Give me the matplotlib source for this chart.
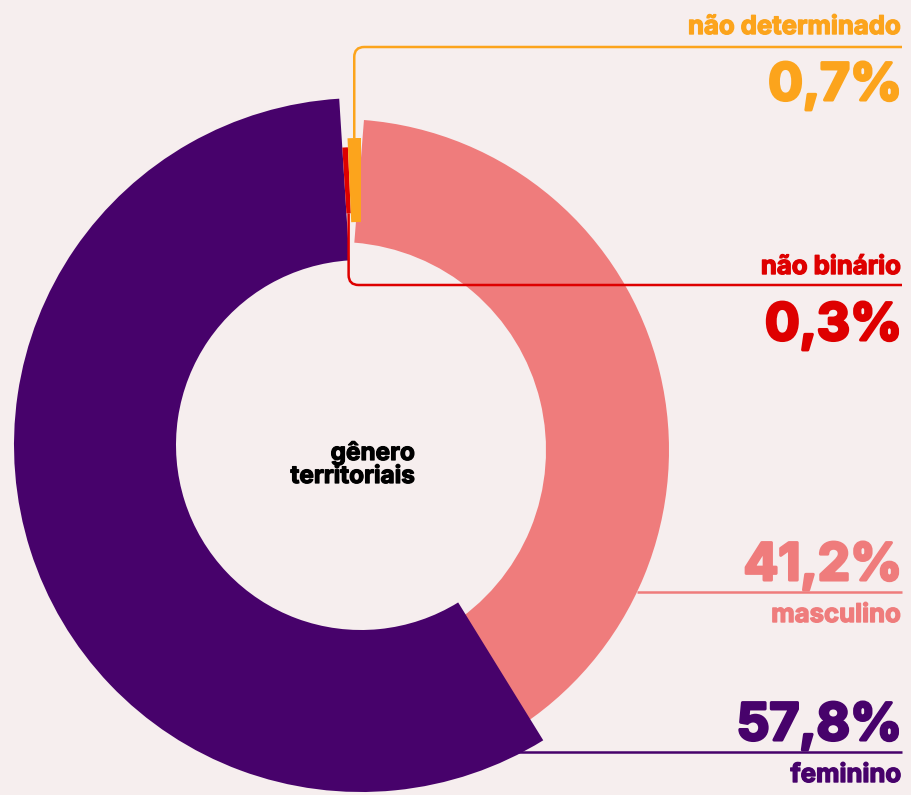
import numpy as np
import matplotlib
matplotlib.use("Agg")
import matplotlib.pyplot as plt
import matplotlib.patheffects as pe
from matplotlib.patches import Wedge, PathPatch
from matplotlib.path import Path

# dados
categorias = ["masculino", "feminino", "não binário", "não determinado"]
valores = [41.2, 57.8, 0.3, 0.7]
rotulos = ["41,2%", "57,8%", "0,3%", "0,7%"]
titulo = "gênero\nterritoriais"

# estilo
cores = ["#EF7C7C", "#47026B", "#DE0000", "#FCA41C"]
fundo = "#F6EEEE"
cx, cy = 361, 445                     # centro do anel (px)
deslocamento = [(-23, 5), (0, 0), (0, 0), (0, 0)]
raio_in = [208, 185, 232, 223]
raio_out = [331, 347, 298, 307]
folga_inicio = [4.5, 0, 0, 0]         # recuo do inicio da fatia rosa
ordem_desenho = [0, 1, 2, 3]
fonte = "Inter"

fig = plt.figure(figsize=(9.11, 7.95), dpi=100)
fig.patch.set_facecolor(fundo)
ax = fig.add_axes([0, 0, 1, 1])
ax.set_xlim(0, 911)
ax.set_ylim(795, 0)
ax.set_aspect("equal")
ax.axis("off")

# angulos no sentido horario a partir do topo
total = sum(valores)
fim = np.cumsum(valores) / total * 360
ini = fim - np.array(valores) / total * 360

def ponto(i, ang, r):
    ox, oy = cx + deslocamento[i][0], cy + deslocamento[i][1]
    a = np.radians(ang)
    return ox + r * np.sin(a), oy - r * np.cos(a)

for i in ordem_desenho:
    ox, oy = cx + deslocamento[i][0], cy + deslocamento[i][1]
    a1 = ini[i] + folga_inicio[i] - 90
    a2 = fim[i] - 90
    ax.add_patch(Wedge((ox, oy), raio_out[i], a1, a2,
                       width=raio_out[i] - raio_in[i],
                       facecolor=cores[i], edgecolor="none"))

x_fim = 902
def linha_curva(x0, y0, y_lin, cor, r=10):
    s = 1 if y_lin > y0 else -1
    verts = [(x0, y0), (x0, y_lin - s * r), (x0, y_lin), (x0 + r, y_lin), (x_fim, y_lin)]
    codes = [Path.MOVETO, Path.LINETO, Path.CURVE3, Path.CURVE3, Path.LINETO]
    ax.add_patch(PathPatch(Path(verts, codes), facecolor="none",
                           edgecolor=cor, lw=1.8, capstyle="butt"))

# não determinado: linha sai do topo da fatia
meio = (ini[3] + fim[3]) / 2
x0, y0 = ponto(3, meio, raio_out[3])
linha_curva(x0, y0, 47, cores[3])
# não binário: linha sai da base da fatia
meio = (ini[2] + fim[2]) / 2
x0, y0 = ponto(2, meio, raio_in[2])
linha_curva(x0, y0, 285, cores[2])
# masculino: linha na borda externa
y_m = 592
ox, oy = cx + deslocamento[0][0], cy + deslocamento[0][1]
x_m = ox + np.sqrt(raio_out[0] ** 2 - (y_m - oy) ** 2)
ax.plot([x_m, x_fim], [y_m, y_m], color=cores[0], lw=1.8, solid_capstyle="butt")
# feminino: linha a partir do canto da fatia
x_f, y_f = ponto(1, ini[1], raio_out[1])
ax.plot([x_f - 25, x_fim], [752, 752], color=cores[1], lw=1.8, solid_capstyle="butt")

# contorno da mesma cor para engrossar o traço (fonte mais pesada)
def texto(x, y, s, cor, tam, engrossa):
    t = ax.text(x, y, s, color=cor, fontsize=tam, fontweight="bold", family=fonte,
                ha="right", va="baseline")
    t.set_path_effects([pe.withStroke(linewidth=engrossa, foreground=cor)])

xr, xg = 901, 902
tg, tp = 37, 18.5
texto(xr, 34, categorias[3], cores[3], tp, 1.0)
texto(xg, 100, rotulos[3], cores[3], tg, 2.2)
texto(xr, 274, categorias[2], cores[2], tp, 1.0)
texto(xg, 340, rotulos[2], cores[2], tg, 2.2)
texto(xg, 580, rotulos[0], cores[0], tg, 2.2)
texto(xr, 622, categorias[0], cores[0], tp, 1.0)
texto(xg, 740, rotulos[1], cores[1], tg, 2.2)
texto(xr, 782, categorias[1], cores[1], tp, 1.0)

t = ax.text(415, 483, titulo, color="#000000", fontsize=17.5, fontweight="bold",
            family=fonte, ha="right", va="baseline", multialignment="right",
            linespacing=1.0)
t.set_path_effects([pe.withStroke(linewidth=0.9, foreground="#000000")])

fig.savefig("out.png", dpi=100, facecolor=fundo)
